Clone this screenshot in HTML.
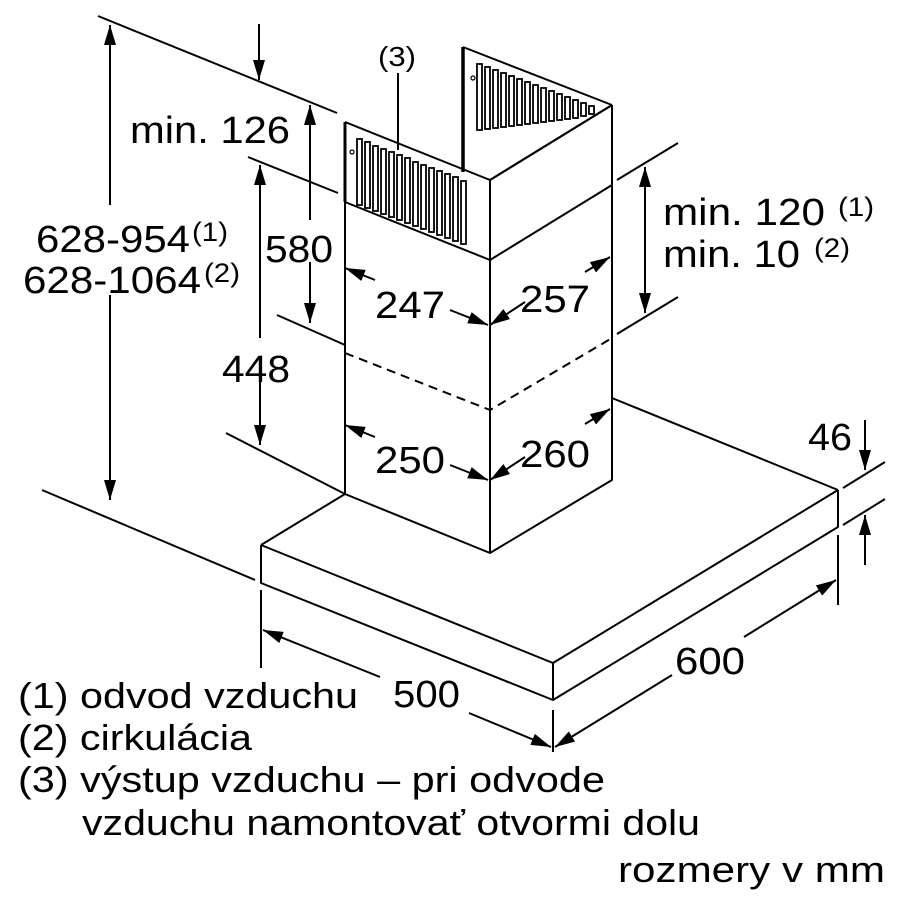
<!DOCTYPE html>
<html><head><meta charset="utf-8"><style>
html,body{margin:0;padding:0;background:#fff;}
svg{display:block;}
text{font-family:"Liberation Sans",sans-serif;fill:#000;}
</style></head><body>
<svg width="900" height="900" viewBox="0 0 900 900" xmlns="http://www.w3.org/2000/svg">
<defs>
<marker id="a" viewBox="0 0 20 12" refX="20" refY="6" markerWidth="20" markerHeight="12" markerUnits="userSpaceOnUse" orient="auto-start-reverse">
<path d="M0,0 L20,6 L0,12 Z" fill="#000"/></marker>
</defs>
<g stroke="#000" stroke-width="2" fill="none" stroke-linejoin="round">
<path d="M261,545 L345,494 M261,545 L553,663 L838,490 M612,398 L838,490 M261,545 L261,583 L553,700 L838,527 L838,490 M553,663 L553,700" fill="#fff"/>
<path d="M345,202 L345,494 L490,553 L612,480 L612,105"/>
<path d="M490,260 L490,553"/>
<path d="M345,202 L490,260 L612,185"/>
<path d="M345,353 L490,410 L612,338" stroke-dasharray="9,6"/>
<path d="M345,122 L490,180 L612,105 M345,122 L345,202 M490,180 L490,260"/>
<path d="M463,47 L612,105" />
<path d="M463,47 L463,172" stroke-width="3.5"/>
<path d="M345,122 L345,202" stroke-width="3"/>
</g>
<g stroke="#000" stroke-width="1.8" fill="#fff">
<rect x="357" y="139" width="5" height="66"/>
<rect x="365" y="142" width="5" height="66"/>
<rect x="373" y="146" width="5" height="65"/>
<rect x="381" y="149" width="5" height="65"/>
<rect x="389" y="152" width="5" height="65"/>
<rect x="397" y="155" width="5" height="65"/>
<rect x="405" y="158" width="5" height="65"/>
<rect x="413" y="162" width="5" height="64"/>
<rect x="421" y="165" width="5" height="64"/>
<rect x="429" y="168" width="5" height="64"/>
<rect x="437" y="171" width="5" height="64"/>
<rect x="445" y="174" width="5" height="64"/>
<rect x="453" y="177" width="5" height="64"/>
<rect x="461" y="181" width="5" height="63"/>
<rect x="477" y="64" width="5" height="66"/>
<rect x="485" y="67" width="5" height="62"/>
<rect x="493" y="70" width="5" height="58"/>
<rect x="501" y="73" width="5" height="54"/>
<rect x="509" y="76" width="5" height="50"/>
<rect x="517" y="79" width="5" height="46"/>
<rect x="525" y="82" width="5" height="42"/>
<rect x="533" y="85" width="5" height="38"/>
<rect x="541" y="88" width="5" height="34"/>
<rect x="549" y="91" width="5" height="30"/>
<rect x="557" y="94" width="5" height="26"/>
<rect x="565" y="97" width="5" height="22"/>
<rect x="573" y="100" width="5" height="18"/>
<rect x="581" y="103" width="5" height="13"/>
<rect x="589" y="106" width="5" height="8"/>
</g>
<path d="M490,180 L612,105" stroke="#000" stroke-width="2"/>
<circle cx="352" cy="152" r="2" fill="none" stroke="#000" stroke-width="1.2"/>
<circle cx="473" cy="78" r="2" fill="none" stroke="#000" stroke-width="1.2"/>
<line x1="398" y1="73" x2="398" y2="150" stroke="#000" stroke-width="2"/>
<text x="378" y="66" font-size="28" textLength="38" lengthAdjust="spacingAndGlyphs">(3)</text>

<g stroke="#000" stroke-width="2" fill="none">
<path d="M98,16 L337,113"/>
<path d="M248,157 L338,193"/>
<path d="M277,315 L345,345"/>
<path d="M226,433 L345,494"/>
<path d="M42,490 L255,580"/>
<path d="M617,180 L678,143 M617,334 L678,297"/>
<path d="M843,488 L885,462 M843,525 L885,499"/>
<path d="M261,590 L261,668 M553,710 L553,752 M838,535 L838,605"/>
</g>
<g stroke="#000" stroke-width="2" fill="none" marker-end="url(#a)">
<line x1="259" y1="24" x2="259" y2="80"/>
<line x1="110" y1="205" x2="110" y2="25"/>
<line x1="110" y1="295" x2="110" y2="500"/>
<line x1="310" y1="220" x2="310" y2="105"/>
<line x1="310" y1="262" x2="310" y2="323"/>
<line x1="260" y1="338" x2="260" y2="165"/>
<line x1="260" y1="378" x2="260" y2="445"/>
<line x1="645" y1="240" x2="645" y2="167"/>
<line x1="645" y1="240" x2="645" y2="313"/>
<line x1="375" y1="280" x2="345" y2="268"/>
<line x1="450" y1="310" x2="488" y2="325"/>
<line x1="525" y1="302" x2="490" y2="325"/>
<line x1="585" y1="272" x2="610" y2="257"/>
<line x1="375" y1="437" x2="345" y2="425"/>
<line x1="450" y1="465" x2="488" y2="480"/>
<line x1="525" y1="457" x2="490" y2="480"/>
<line x1="585" y1="424" x2="610" y2="409"/>
<line x1="380" y1="677" x2="263" y2="630"/>
<line x1="469" y1="713" x2="551" y2="747"/>
<line x1="672" y1="675" x2="555" y2="747"/>
<line x1="744" y1="637" x2="836" y2="580"/>
<line x1="865" y1="420" x2="865" y2="470"/>
<line x1="865" y1="565" x2="865" y2="515"/>
</g>
<g font-size="38">
<text x="130" y="143" textLength="160" lengthAdjust="spacingAndGlyphs">min. 126</text>
<text x="265" y="262" textLength="68" lengthAdjust="spacingAndGlyphs">580</text>
<text x="222" y="382" textLength="68" lengthAdjust="spacingAndGlyphs">448</text>
<text x="36" y="252" textLength="154" lengthAdjust="spacingAndGlyphs">628-954</text><text x="192" y="241" font-size="27" textLength="36" lengthAdjust="spacingAndGlyphs">(1)</text>
<text x="23" y="293" textLength="178" lengthAdjust="spacingAndGlyphs">628-1064</text><text x="204" y="282" font-size="27" textLength="36" lengthAdjust="spacingAndGlyphs">(2)</text>
<text x="663" y="225" textLength="162" lengthAdjust="spacingAndGlyphs">min. 120</text><text x="838" y="216" font-size="27" textLength="36" lengthAdjust="spacingAndGlyphs">(1)</text>
<text x="663" y="267" textLength="137" lengthAdjust="spacingAndGlyphs">min. 10</text><text x="814" y="257" font-size="27" textLength="36" lengthAdjust="spacingAndGlyphs">(2)</text>
<text x="375" y="318" textLength="70" lengthAdjust="spacingAndGlyphs">247</text>
<text x="520" y="312" textLength="70" lengthAdjust="spacingAndGlyphs">257</text>
<text x="375" y="473" textLength="70" lengthAdjust="spacingAndGlyphs">250</text>
<text x="520" y="467" textLength="70" lengthAdjust="spacingAndGlyphs">260</text>
<text x="393" y="707" textLength="67" lengthAdjust="spacingAndGlyphs">500</text>
<text x="675" y="674" textLength="70" lengthAdjust="spacingAndGlyphs">600</text>
<text x="808" y="450" textLength="44" lengthAdjust="spacingAndGlyphs">46</text>
</g>
<g font-size="36">
<text x="18" y="708" textLength="340" lengthAdjust="spacingAndGlyphs">(1) odvod vzduchu</text>
<text x="18" y="750" textLength="234" lengthAdjust="spacingAndGlyphs">(2) cirkulácia</text>
<text x="18" y="792" textLength="587" lengthAdjust="spacingAndGlyphs">(3) výstup vzduchu – pri odvode</text>
<text x="82" y="835" textLength="618" lengthAdjust="spacingAndGlyphs">vzduchu namontovať otvormi dolu</text>
<text x="618" y="882" textLength="267" lengthAdjust="spacingAndGlyphs">rozmery v mm</text>
</g>
</svg>
</body></html>
